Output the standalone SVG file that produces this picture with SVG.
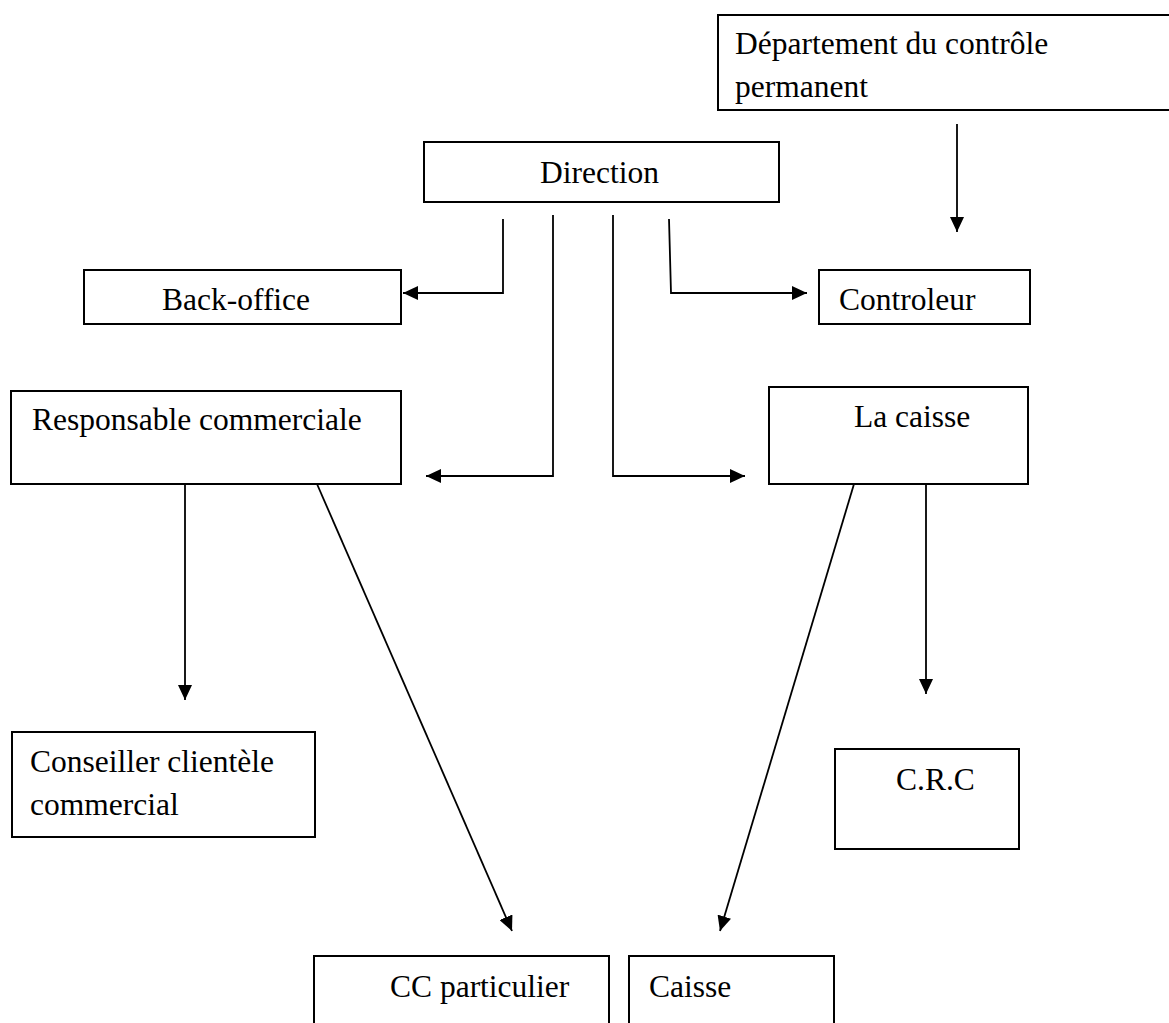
<svg xmlns="http://www.w3.org/2000/svg" width="1169" height="1023" viewBox="0 0 1169 1023">
  <style>
    .box { fill: #fff; stroke: #000; stroke-width: 2; }
    .lbl { font-family: "Liberation Serif", "Times New Roman", serif; font-size: 31.5px; fill: #000; }
    .wire { fill: none; stroke: #000; stroke-width: 1.8; }
  </style>
  <defs>
    <marker id="head" markerUnits="userSpaceOnUse" markerWidth="15" markerHeight="14" refX="15" refY="7" orient="auto">
      <path d="M0,0 L15,7 L0,14 z" fill="#000"/>
    </marker>
  </defs>
  <rect width="1169" height="1023" fill="#fff"/>

  <g id="dept-controle">
    <rect class="box" x="718" y="15" width="460" height="95"/>
    <text class="lbl" x="735" y="54">Département du contrôle</text>
    <text class="lbl" x="735" y="97">permanent</text>
  </g>

  <g id="direction">
    <rect class="box" x="424" y="142" width="355" height="60"/>
    <text class="lbl" x="540" y="183">Direction</text>
  </g>

  <g id="back-office">
    <rect class="box" x="84" y="270" width="317" height="54"/>
    <text class="lbl" x="162" y="310">Back-office</text>
  </g>

  <g id="controleur">
    <rect class="box" x="819" y="270" width="211" height="54"/>
    <text class="lbl" x="839" y="310">Controleur</text>
  </g>

  <g id="responsable-commerciale">
    <rect class="box" x="11" y="391" width="390" height="93"/>
    <text class="lbl" x="32" y="430">Responsable commerciale</text>
  </g>

  <g id="la-caisse">
    <rect class="box" x="769" y="387" width="259" height="97"/>
    <text class="lbl" x="854" y="427">La caisse</text>
  </g>

  <g id="conseiller">
    <rect class="box" x="12" y="732" width="303" height="105"/>
    <text class="lbl" x="30" y="772">Conseiller clientèle</text>
    <text class="lbl" x="30" y="815">commercial</text>
  </g>

  <g id="crc">
    <rect class="box" x="835" y="749" width="184" height="100"/>
    <text class="lbl" x="896" y="790">C.R.C</text>
  </g>

  <g id="cc-particulier">
    <rect class="box" x="314" y="956" width="295" height="80"/>
    <text class="lbl" x="390" y="997">CC particulier</text>
  </g>

  <g id="caisse">
    <rect class="box" x="629" y="956" width="205" height="80"/>
    <text class="lbl" x="649" y="997">Caisse</text>
  </g>

  <g id="connectors">
    <!-- control department down to controller -->
    <path class="wire" d="M957,124 V232" marker-end="url(#head)"/>
    <!-- Direction to Back-office and Controleur -->
    <path class="wire" d="M503,219 V293 H403" marker-end="url(#head)"/>
    <path class="wire" d="M669,219 L671,293 H807" marker-end="url(#head)"/>
    <!-- Direction to Responsable commerciale and La caisse -->
    <path class="wire" d="M553,215 V476 H426" marker-end="url(#head)"/>
    <path class="wire" d="M613,215 V476 H745" marker-end="url(#head)"/>
    <!-- Responsable commerciale branches -->
    <path class="wire" d="M185,484 V700" marker-end="url(#head)"/>
    <path class="wire" d="M317,484 L512,931" marker-end="url(#head)"/>
    <!-- La caisse branches -->
    <path class="wire" d="M926,484 V694" marker-end="url(#head)"/>
    <path class="wire" d="M854,484 L720,931" marker-end="url(#head)"/>
  </g>
</svg>
